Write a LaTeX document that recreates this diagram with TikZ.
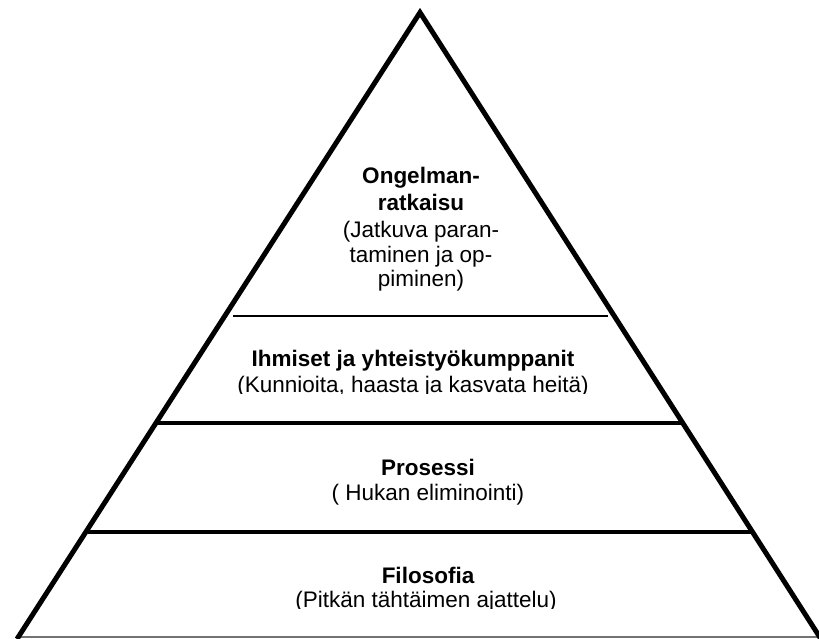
\documentclass[tikz,border=0pt]{standalone}
\usepackage{fontspec}
\setmainfont{Liberation Sans}
\begin{document}
\begin{tikzpicture}[x=1pt,y=-1pt,
  edge/.style={line width=5pt, line join=miter},
  tier/.style={line width=4.5pt},
  thintier/.style={line width=2pt},
  baseline/.style={line width=1.5pt, draw=black!55},
  head/.style={anchor=base, inner sep=0pt, font=\fontsize{22.5}{27}\selectfont\bfseries},
  note/.style={anchor=base, inner sep=0pt, font=\fontsize{22.5}{27}\selectfont}]
\useasboundingbox (0,0) rectangle (819,638);

% ground line and the two sides of the pyramid
\draw[baseline] (18,637) -- (819,637);
\draw[edge] (17,639) -- (420,12.5) -- (821,639);

% dividers between the levels
\draw[thintier] (233,316) -- (608,316);
\draw[tier] (158,423) -- (683,423);
\draw[tier] (88,532) -- (753,532);

% top level
\node[head] (t1) at (421,183) {Ongelman-};
\node[head] (t2) at (421,210) {ratkaisu};
\node[note] (t3) at (421,237) {(Jatkuva paran-};
\node[note] (t4) at (421,262) {taminen ja op-};
\node[note] (t5) at (421,286) {piminen)};

% second level
\node[head] (p1) at (413,366) {Ihmiset ja yhteistyökumppanit};
\begin{scope}
  \clip (0,0) rectangle (819,393.5);
  \node[note] (p2) at (413,392) {(Kunnioita, haasta ja kasvata heitä)};
\end{scope}

% third level
\node[head] (r1) at (428,475) {Prosessi};
\node[note] (r2) at (428,500) {( Hukan eliminointi)};

% bottom level
\node[head] (f1) at (428,583) {Filosofia};
\begin{scope}
  \clip (0,0) rectangle (819,608.5);
  \node[note] (f2) at (426,607) {(Pitkän tähtäimen ajattelu)};
\end{scope}
\end{tikzpicture}
\end{document}
